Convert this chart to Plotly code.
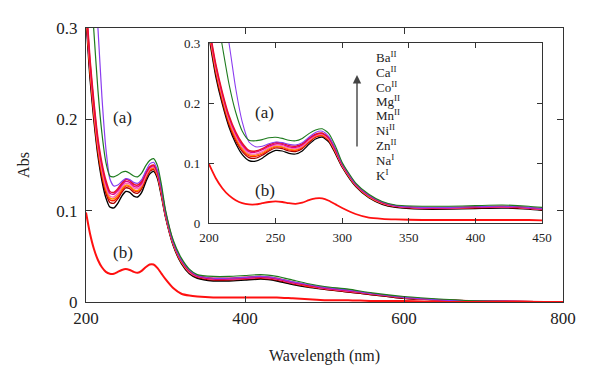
import plotly.graph_objects as go

W, H = 600, 381

wavelength = [200, 205, 210, 215, 220, 225, 230, 235, 240, 245, 250, 255, 260, 265, 270, 275, 280, 285, 290, 295,
              300, 310, 320, 330, 340, 360, 380, 400, 420, 440, 460, 480, 500, 530, 560, 600, 650, 700, 800]

abs_K = [0.310, 0.245, 0.198, 0.160, 0.133, 0.114, 0.104, 0.103, 0.108, 0.116, 0.121, 0.120, 0.116, 0.115, 0.120, 0.131, 0.140, 0.143, 0.135, 0.115,
         0.093, 0.061, 0.042, 0.031, 0.026, 0.023, 0.023, 0.024, 0.025, 0.023, 0.019, 0.016, 0.014, 0.011, 0.008, 0.004, 0.002, 0.001, 0.000]
abs_Na = [0.315, 0.250, 0.202, 0.164, 0.137, 0.119, 0.109, 0.108, 0.113, 0.120, 0.125, 0.124, 0.120, 0.119, 0.124, 0.134, 0.143, 0.145, 0.137, 0.117,
          0.094, 0.062, 0.043, 0.032, 0.027, 0.024, 0.024, 0.025, 0.026, 0.024, 0.020, 0.017, 0.014, 0.011, 0.008, 0.004, 0.002, 0.001, 0.000]
abs_Zn = [0.318, 0.254, 0.206, 0.167, 0.140, 0.122, 0.112, 0.111, 0.115, 0.122, 0.127, 0.126, 0.122, 0.121, 0.126, 0.136, 0.144, 0.146, 0.138, 0.118,
          0.095, 0.063, 0.044, 0.033, 0.028, 0.025, 0.025, 0.026, 0.027, 0.025, 0.021, 0.017, 0.015, 0.012, 0.009, 0.005, 0.002, 0.001, 0.000]
abs_Ni = [0.320, 0.257, 0.209, 0.170, 0.143, 0.124, 0.114, 0.113, 0.117, 0.124, 0.128, 0.127, 0.123, 0.122, 0.127, 0.137, 0.145, 0.147, 0.139, 0.119,
          0.096, 0.063, 0.044, 0.033, 0.028, 0.025, 0.025, 0.026, 0.027, 0.025, 0.021, 0.018, 0.015, 0.012, 0.009, 0.005, 0.002, 0.001, 0.000]
abs_Mn = [0.322, 0.260, 0.212, 0.173, 0.146, 0.127, 0.116, 0.115, 0.119, 0.126, 0.130, 0.129, 0.125, 0.124, 0.128, 0.138, 0.146, 0.148, 0.140, 0.120,
          0.096, 0.064, 0.045, 0.033, 0.028, 0.025, 0.025, 0.026, 0.027, 0.025, 0.021, 0.018, 0.015, 0.012, 0.009, 0.005, 0.002, 0.001, 0.000]
abs_Mg = [0.325, 0.263, 0.215, 0.176, 0.149, 0.130, 0.119, 0.118, 0.122, 0.128, 0.132, 0.131, 0.127, 0.126, 0.130, 0.140, 0.147, 0.149, 0.141, 0.121,
          0.097, 0.064, 0.045, 0.034, 0.028, 0.025, 0.025, 0.026, 0.027, 0.025, 0.021, 0.018, 0.015, 0.012, 0.009, 0.005, 0.002, 0.001, 0.000]
abs_Co = [0.328, 0.266, 0.218, 0.179, 0.152, 0.133, 0.121, 0.120, 0.124, 0.130, 0.134, 0.133, 0.129, 0.128, 0.132, 0.141, 0.148, 0.150, 0.142, 0.122,
          0.098, 0.065, 0.046, 0.034, 0.029, 0.026, 0.026, 0.027, 0.028, 0.026, 0.022, 0.018, 0.016, 0.013, 0.009, 0.005, 0.002, 0.001, 0.000]
abs_Ca = [0.560, 0.450, 0.360, 0.300, 0.225, 0.168, 0.135, 0.127, 0.128, 0.132, 0.135, 0.134, 0.131, 0.130, 0.134, 0.143, 0.151, 0.153, 0.144, 0.124,
          0.099, 0.065, 0.046, 0.035, 0.029, 0.026, 0.026, 0.027, 0.028, 0.026, 0.022, 0.019, 0.016, 0.013, 0.009, 0.005, 0.002, 0.001, 0.000]
abs_Ba = [0.440, 0.360, 0.295, 0.232, 0.185, 0.153, 0.138, 0.137, 0.139, 0.142, 0.143, 0.141, 0.138, 0.137, 0.141, 0.149, 0.155, 0.157, 0.149, 0.128,
          0.101, 0.067, 0.048, 0.036, 0.030, 0.028, 0.028, 0.029, 0.030, 0.028, 0.024, 0.020, 0.017, 0.014, 0.010, 0.006, 0.003, 0.001, 0.000]
abs_b = [0.098, 0.075, 0.058, 0.046, 0.038, 0.033, 0.031, 0.031, 0.033, 0.035, 0.036, 0.035, 0.033, 0.032, 0.034, 0.038, 0.041, 0.041, 0.037, 0.031,
         0.025, 0.015, 0.009, 0.007, 0.006, 0.005, 0.005, 0.005, 0.005, 0.005, 0.004, 0.003, 0.002, 0.002, 0.001, 0.001, 0.000, 0.000, 0.000]

ion_labels = ["Ba<sup>II</sup>", "Ca<sup>II</sup>", "Co<sup>II</sup>", "Mg<sup>II</sup>", "Mn<sup>II</sup>",
              "Ni<sup>II</sup>", "Zn<sup>II</sup>", "Na<sup>I</sup>", "K<sup>I</sup>"]

series = [
    (abs_K, "#000000", 1.4),
    (abs_Na, "#a80000", 1.4),
    (abs_Zn, "#ff2000", 1.4),
    (abs_Ni, "#ff8c00", 1.4),
    (abs_Mn, "#ff66b8", 1.4),
    (abs_Mg, "#e0008c", 1.4),
    (abs_Co, "#e8102a", 1.6),
    (abs_Ca, "#8a3cf0", 1.2),
    (abs_Ba, "#1e7b1e", 1.2),
    (abs_b, "#ff1010", 2.0),
]

main_ticks = [200, 400, 600, 800]
inset_ticks = [200, 250, 300, 350, 400, 450]
y_ticks = [0, 0.1, 0.2, 0.3]

fig = go.Figure()
for vals, col, lw in series:
    fig.add_trace(go.Scatter(x=wavelength, y=vals, mode="lines", line=dict(color=col, width=lw, shape="spline", smoothing=0.6),
                             showlegend=False, xaxis="x", yaxis="y", hoverinfo="skip"))
for vals, col, lw in series:
    fig.add_trace(go.Scatter(x=wavelength, y=vals, mode="lines", line=dict(color=col, width=lw * 0.9, shape="spline", smoothing=0.6),
                             showlegend=False, xaxis="x2", yaxis="y2", hoverinfo="skip"))

SERIF = "Liberation Serif"
ax_common = dict(showgrid=False, zeroline=False, showline=True, linecolor="#333333", linewidth=1.2, automargin=False,
                 mirror="ticks", ticks="inside", tickcolor="#333333", tickwidth=1.2)


def px_x(p):
    return p / W


def px_y(p):
    return 1 - p / H


fig.update_layout(
    width=W, height=H, margin=dict(l=0, r=0, t=0, b=0, autoexpand=False),
    paper_bgcolor="white", plot_bgcolor="white",
    font=dict(family=SERIF, color="#222222"),
    xaxis=dict(**ax_common, domain=[px_x(86), px_x(563)], range=[200, 800], tickvals=main_ticks, ticklen=6,
               tickfont=dict(size=17, family=SERIF),
               title=dict(text="Wavelength (nm)", font=dict(size=16, family=SERIF), standoff=23),
               anchor="y"),
    yaxis=dict(**ax_common, domain=[px_y(302), px_y(28)], range=[0, 0.3], tickvals=y_ticks, ticklen=6,
               tickfont=dict(size=17, family=SERIF), ticklabelstandoff=4,
               title=dict(text="Abs", font=dict(size=16, family=SERIF), standoff=22),
               anchor="x"),
    xaxis2=dict(**ax_common, domain=[px_x(209), px_x(542)], range=[200, 450], tickvals=inset_ticks, ticklen=5,
                tickfont=dict(size=13, family=SERIF), ticklabelstandoff=2, anchor="y2"),
    yaxis2=dict(**ax_common, domain=[px_y(223), px_y(43)], range=[0, 0.3], tickvals=y_ticks, ticklen=5,
                tickfont=dict(size=13, family=SERIF), ticklabelstandoff=5, anchor="x2"),
)

annotations = [
    dict(x=px_x(123), y=px_y(118), text="(a)"),
    dict(x=px_x(123), y=px_y(252), text="(b)"),
    dict(x=px_x(264), y=px_y(112), text="(a)"),
    dict(x=px_x(265), y=px_y(190), text="(b)"),
]
for a in annotations:
    fig.add_annotation(xref="paper", yref="paper", showarrow=False, font=dict(size=17, family=SERIF, color="#222222"),
                       xanchor="center", yanchor="middle", **a)

ion_y = [57, 72, 87, 101, 115, 130, 145, 160, 175]
for lab, yy in zip(ion_labels, ion_y):
    fig.add_annotation(xref="paper", yref="paper", x=px_x(374), y=px_y(yy), text=lab, showarrow=False,
                       xanchor="left", yanchor="middle", font=dict(size=13, family=SERIF, color="#222222"))

fig.add_annotation(xref="paper", yref="paper", x=px_x(357), y=px_y(75), ax=0, ay=73, text="",
                   showarrow=True, arrowhead=2, arrowsize=1.2, arrowwidth=1.4, arrowcolor="#444444")

fig.write_html("out.html", config={"displayModeBar": False},
               post_script="document.body.style.margin='0px';")
